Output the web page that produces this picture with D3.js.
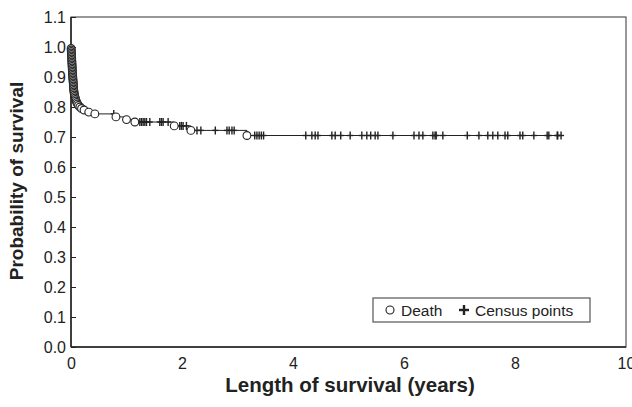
<!DOCTYPE html>
<html><head><meta charset="utf-8">
<script src="https://cdn.jsdelivr.net/npm/d3@7"></script>
<style>
body{margin:0;background:#fff}
text{font-family:"Liberation Sans",Arial,Helvetica,sans-serif;fill:#222}
</style>
</head><body>
<svg id="c" width="632" height="407"></svg>
<script>
// Death events: time (years) and survival probability after the event
const deathTimes = [0.002,0.004,0.005,0.007,0.008,0.010,0.011,0.013,0.014,0.016,0.017,0.019,0.020,0.022,0.023,0.025,0.026,0.028,0.030,0.032,0.034,0.036,0.038,0.040,0.042,0.044,0.046,0.048,0.051,0.054,0.058,0.063,0.069,0.076,0.084,0.093,0.105,0.118,0.135,0.16,0.19,0.235,0.32,0.43,0.81,1.00,1.15,1.86,2.16,3.17];
const deathSurv  = [0.995,0.990,0.985,0.980,0.975,0.970,0.965,0.960,0.955,0.950,0.945,0.940,0.935,0.930,0.925,0.920,0.915,0.910,0.905,0.900,0.895,0.890,0.885,0.880,0.875,0.870,0.865,0.860,0.855,0.850,0.845,0.840,0.835,0.830,0.825,0.820,0.815,0.810,0.805,0.800,0.795,0.790,0.783,0.777,0.767,0.758,0.750,0.737,0.722,0.705];
// Census (censored) times in years
const censusTimes = [0.77,1.24,1.27,1.30,1.33,1.36,1.42,1.60,1.63,1.66,1.75,1.96,1.99,2.02,2.08,2.27,2.34,2.60,2.81,2.85,2.90,2.94,3.31,3.35,3.39,3.43,3.47,4.23,4.34,4.40,4.45,4.70,4.76,4.86,5.03,5.24,5.33,5.40,5.48,5.53,5.80,6.18,6.27,6.34,6.52,6.56,6.58,6.70,7.14,7.35,7.51,7.60,7.69,7.82,7.87,8.09,8.14,8.34,8.58,8.61,8.76,8.77,8.83];
const followUpEnd = 8.85;
const xTicks = [0,2,4,6,8,10];
const yTicks = [0,0.1,0.2,0.3,0.4,0.5,0.6,0.7,0.8,0.9,1.0,1.1];
const legendLabels = ["Death","Census points"];

const svg = d3.select("#c");
const x = d3.scaleLinear().domain([0,10]).range([71,626]);
const y = d3.scaleLinear().domain([0,1.1]).range([347,17]);

// frame
svg.append("rect").attr("x",x(0)).attr("y",y(1.1)).attr("width",x(10)-x(0)).attr("height",y(0)-y(1.1))
  .attr("fill","none").attr("stroke","#333").attr("stroke-width",1);
svg.append("line").attr("x1",x(0)).attr("x2",x(0)).attr("y1",y(0)).attr("y2",y(1.1)).attr("stroke","#222").attr("stroke-width",1.5);
svg.append("line").attr("x1",x(0)).attr("x2",x(10)).attr("y1",y(0)).attr("y2",y(0)).attr("stroke","#222").attr("stroke-width",1.5);

// axes
const ya = svg.append("g").attr("transform",`translate(${x(0)},0)`)
  .call(d3.axisLeft(y).tickValues(yTicks).tickFormat(d3.format(".1f")).tickSizeInner(-5).tickSizeOuter(0).tickPadding(5));
ya.select(".domain").remove();
ya.selectAll("line").attr("stroke","#222");
ya.selectAll("text").style("font-size","16px").attr("fill","#222");

const xa = svg.append("g").attr("transform",`translate(0,${y(0)})`)
  .call(d3.axisBottom(x).tickValues(xTicks).tickFormat(d3.format("d")).tickSize(0).tickPadding(11));
xa.select(".domain").remove();
xa.selectAll("text").style("font-size","16px").attr("fill","#222");

// titles
svg.append("text").attr("transform","translate(23,181) rotate(-90)").attr("text-anchor","middle")
  .style("font-size","19px").style("font-weight","bold").text("Probability of survival");
svg.append("text").attr("x",350).attr("y",392).attr("text-anchor","middle")
  .style("font-size","20.5px").style("font-weight","bold").text("Length of survival (years)");

// KM step line
const deaths = deathTimes.map((t,i)=>({t, s:deathSurv[i]}));
const survAt = t => { let s=1; for(const d of deaths){ if(d.t<=t) s=d.s; } return s; };
const pts = [{t:0,s:1}, ...deaths, {t:followUpEnd, s:survAt(followUpEnd)}];
svg.append("path").datum(pts)
  .attr("d", d3.line().x(d=>x(d.t)).y(d=>y(d.s)).curve(d3.curveStepAfter))
  .attr("fill","none").attr("stroke","#222").attr("stroke-width",1);

// census marks
const cg = svg.append("g").attr("stroke","#222").attr("stroke-width",1.4);
censusTimes.forEach(t=>{
  const cx=x(t), cy=y(survAt(t));
  cg.append("line").attr("x1",cx).attr("x2",cx).attr("y1",cy-4).attr("y2",cy+4);
  cg.append("line").attr("x1",cx-3).attr("x2",cx+3).attr("y1",cy).attr("y2",cy);
});

// death circles
svg.append("g").selectAll("circle").data(deaths).join("circle")
  .attr("cx",d=>x(d.t)).attr("cy",d=>y(d.s)).attr("r",3.9)
  .attr("fill","#fff").attr("stroke","#222").attr("stroke-width",1.1);

// legend
const lg = svg.append("g");
lg.append("rect").attr("x",373).attr("y",298).attr("width",217).attr("height",24)
  .attr("fill","#fff").attr("stroke","#555").attr("stroke-width",1.2);
lg.append("circle").attr("cx",390).attr("cy",310).attr("r",4).attr("fill","#fff").attr("stroke","#222").attr("stroke-width",1.1);
lg.append("text").attr("x",401).attr("y",315.5).style("font-size","15.5px").text(legendLabels[0]);
lg.append("line").attr("x1",464).attr("x2",464).attr("y1",305).attr("y2",315).attr("stroke","#222").attr("stroke-width",2.4);
lg.append("line").attr("x1",459).attr("x2",469).attr("y1",310).attr("y2",310).attr("stroke","#222").attr("stroke-width",2.4);
lg.append("text").attr("x",475).attr("y",315.5).style("font-size","15.5px").text(legendLabels[1]);
</script>
</body></html>
